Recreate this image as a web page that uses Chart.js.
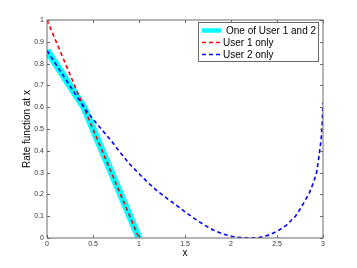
<!DOCTYPE html>
<html>
<head>
<meta charset="utf-8">
<script src="https://cdn.jsdelivr.net/npm/chart.js@4"></script>
<style>
html,body{margin:0;padding:0;background:#fff;}
#wrap{width:357px;height:268px;position:relative;}
</style>
</head>
<body>
<div id="wrap"><canvas id="c" width="357" height="268"></canvas></div>
<script>
// ---- data ----
const bothX = [0, 0.4, 1.0];
const bothY = [0.86, 0.6, 0.0];

const user1X = [0, 1.0];
const user1Y = [1.0, 0.0];

const user2X = [0, 0.1, 0.2, 0.3, 0.4, 0.5, 0.6, 0.7, 0.8, 0.9, 1.0, 1.1, 1.2, 1.3, 1.4, 1.5, 1.6, 1.7, 1.8, 1.9, 2.0, 2.1, 2.2, 2.3, 2.4, 2.5, 2.6, 2.7, 2.75, 2.8, 2.85, 2.9, 2.93, 2.95, 2.97, 2.98, 2.99, 3.0];
const user2Y = [0.86, 0.795, 0.73, 0.665, 0.6, 0.545, 0.495, 0.445, 0.39, 0.338, 0.295, 0.253, 0.215, 0.183, 0.152, 0.12, 0.09, 0.062, 0.038, 0.02, 0.008, 0.002, 0.0, 0.002, 0.012, 0.03, 0.058, 0.1, 0.132, 0.168, 0.205, 0.258, 0.3, 0.355, 0.42, 0.455, 0.515, 0.62];

const seriesLabels = ["One of User 1 and 2", "User 1 only", "User 2 only"];

const xTicks = [0, 0.5, 1, 1.5, 2, 2.5, 3];
const xTickLabels = ["0", "0.5", "1", "1.5", "2", "2.5", "3"];
const yTicks = [0, 0.1, 0.2, 0.3, 0.4, 0.5, 0.6, 0.7, 0.8, 0.9, 1];
const yTickLabels = ["0", "0.1", "0.2", "0.3", "0.4", "0.5", "0.6", "0.7", "0.8", "0.9", "1"];

const toPts = (xs, ys) => xs.map((x, i) => ({x: x, y: ys[i]}));

const FONT = "'Liberation Sans', Arial, Helvetica, sans-serif";
const FRAME = '#6a6a6a';

// frame + inward ticks (MATLAB style) + legend box
const framePlugin = {
  id: 'frame',
  afterDraw(chart) {
    const {ctx, chartArea: a, scales} = chart;
    ctx.save();
    ctx.strokeStyle = FRAME;
    ctx.lineWidth = 1;
    ctx.beginPath();
    ctx.rect(a.left, a.top, a.right - a.left, a.bottom - a.top);
    ctx.stroke();
    const tl = 3;
    ctx.beginPath();
    xTicks.forEach(v => {
      const px = Math.round(scales.x.getPixelForValue(v)) + 0.5;
      ctx.moveTo(px, a.bottom); ctx.lineTo(px, a.bottom - tl);
      ctx.moveTo(px, a.top); ctx.lineTo(px, a.top + tl);
    });
    yTicks.forEach(v => {
      const py = Math.round(scales.y.getPixelForValue(v)) + 0.5;
      ctx.moveTo(a.left, py); ctx.lineTo(a.left + tl, py);
      ctx.moveTo(a.right, py); ctx.lineTo(a.right - tl, py);
    });
    ctx.stroke();

    const bx = 198.5, by = 22.5, bw = 120, bh = 39;
    ctx.fillStyle = '#fff';
    ctx.fillRect(bx, by, bw, bh);
    ctx.strokeStyle = '#6a6a6a';
    ctx.strokeRect(bx, by, bw, bh);
    const ds = chart.data.datasets;
    const rows = [30.5, 42.5, 54.5];
    const textX = [226, 223, 223];
    ctx.font = '10px ' + FONT;
    ctx.textBaseline = 'middle';
    ctx.textAlign = 'left';
    ds.forEach((d, i) => {
      const y = rows[i];
      ctx.save();
      ctx.strokeStyle = d.borderColor;
      ctx.lineWidth = i === 0 ? 4.5 : 1.5;
      if (d.borderDash) ctx.setLineDash(d.borderDash);
      ctx.beginPath();
      ctx.moveTo(202, y); ctx.lineTo(i === 0 ? 221 : 222, y);
      ctx.stroke();
      ctx.restore();
      ctx.fillStyle = '#000';
      ctx.fillText(d.label, textX[i], y + 0.5);
    });
    ctx.restore();
  }
};

new Chart(document.getElementById('c'), {
  type: 'line',
  data: {
    datasets: [
      {label: seriesLabels[0], data: toPts(bothX, bothY), borderColor: '#00ffff', borderWidth: 7, pointRadius: 0, tension: 0, order: 3, clip: 0, borderCapStyle: 'butt', borderJoinStyle: 'miter'},
      {label: seriesLabels[1], data: toPts(user1X, user1Y), borderColor: '#ff0000', borderWidth: 1.6, borderDash: [4, 3], pointRadius: 0, tension: 0, order: 2},
      {label: seriesLabels[2], data: toPts(user2X, user2Y), borderColor: '#0000ff', borderWidth: 1.6, borderDash: [4, 3], pointRadius: 0, tension: 0, order: 1}
    ]
  },
  options: {
    responsive: false,
    animation: false,
    devicePixelRatio: 1,
    layout: {padding: {top: 20, right: 34, left: 0, bottom: 0}},
    plugins: {legend: {display: false}, tooltip: {enabled: false}},
    scales: {
      x: {
        type: 'linear', min: 0, max: 3,
        afterBuildTicks: s => { s.ticks = xTicks.map(v => ({value: v})); },
        afterFit: s => { s.height = 30; },
        grid: {display: false, drawTicks: false},
        border: {display: false},
        ticks: {autoSkip: false, maxRotation: 0, padding: 2, color: '#333', font: {family: FONT, size: 7},
          callback: (v, i) => xTickLabels[i]},
        title: {display: true, text: 'x', color: '#000', font: {family: FONT, size: 10}, padding: {top: 0, bottom: 9}}
      },
      y: {
        type: 'linear', min: 0, max: 1,
        afterBuildTicks: s => { s.ticks = yTicks.map(v => ({value: v})); },
        afterFit: s => { s.width = 47; },
        grid: {display: false, drawTicks: false},
        border: {display: false},
        ticks: {autoSkip: false, padding: 3, color: '#333', font: {family: FONT, size: 7},
          callback: (v, i) => yTickLabels[i]},
        title: {display: true, text: 'Rate function at x', color: '#000', font: {family: FONT, size: 10}, padding: {top: 21.5, bottom: 0}}
      }
    }
  },
  plugins: [framePlugin]
});
</script>
</body>
</html>
